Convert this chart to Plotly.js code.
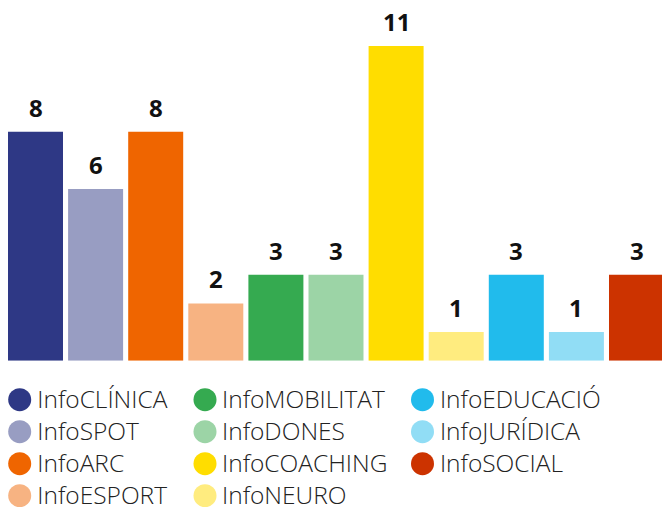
<!DOCTYPE html>
<html>
<head>
<meta charset="utf-8">
<script src="https://cdn.plot.ly/plotly-3.0.1.min.js"></script>
<style>
  html, body { margin: 0; padding: 0; background: #ffffff; }
  #chart { width: 662px; height: 507px; }
</style>
</head>
<body>
<div id="chart"></div>
<script>
// ---- Data ----
const categories = ['InfoCLÍNICA', 'InfoSPOT', 'InfoARC', 'InfoESPORT', 'InfoMOBILITAT', 'InfoDONES',
                    'InfoCOACHING', 'InfoNEURO', 'InfoEDUCACIÓ', 'InfoJURÍDICA', 'InfoSOCIAL'];
const values = [8, 6, 8, 2, 3, 3, 11, 1, 3, 1, 3];
const colors = ['#2e3885', '#989dc2', '#ef6500', '#f7b382', '#35aa50', '#9cd4a6',
                '#ffdd00', '#ffec7f', '#21bbec', '#91ddf5', '#cc3300'];

// ---- Layout constants (pixels) ----
const W = 662, H = 507;
const plotLeft = 5.45;       // left edge of category -0.5
const pitch = 60.1;          // px per category
const baseline = 360.7;      // y pixel of value 0
const unit = 28.61;          // px per value unit
const FONT = '"Open Sans", "Noto Sans", sans-serif';

// legend grid (column-major, 4 rows)
const legMarkerX = [19.7, 205, 422.5];
const legTextX = [37.3, 222.0, 439.9];
const legRowY0 = 399.7, legRowStep = 32;
const legFont = 24.5;

const legMx = [], legMy = [], legTx = [], legTy = [];
categories.forEach((c, i) => {
  const col = Math.floor(i / 4), row = i % 4;
  legMx.push(legMarkerX[col]);
  legMy.push(legRowY0 + row * legRowStep);
  legTx.push(legTextX[col]);
  legTy.push(legRowY0 + row * legRowStep + 1.9);
});

const traces = [
  {
    type: 'bar',
    x: categories,
    y: values,
    marker: { color: colors, line: { width: 0 } },
    hoverinfo: 'none',
    showlegend: false,
    xaxis: 'x', yaxis: 'y'
  },
  {
    type: 'scatter', mode: 'markers',
    x: legMx, y: legMy,
    marker: { color: colors, size: 23, line: { width: 0 } },
    hoverinfo: 'none', showlegend: false,
    xaxis: 'x2', yaxis: 'y2', cliponaxis: false
  },
  {
    type: 'scatter', mode: 'text',
    x: legTx, y: legTy,
    text: categories,
    textposition: 'middle right',
    textfont: { family: FONT, size: legFont, color: '#222222', weight: 350 },
    hoverinfo: 'none', showlegend: false,
    xaxis: 'x2', yaxis: 'y2', cliponaxis: false
  }
];

const annotations = categories.map((c, i) => ({
  x: c, y: values[i], xref: 'x', yref: 'y',
  text: String(values[i]),
  showarrow: false,
  xanchor: 'center', yanchor: 'bottom',
  yshift: 6,
  font: { family: FONT, size: 24, color: '#111111', weight: 'bold' }
}));

const hidden = { showgrid: false, zeroline: false, showticklabels: false, ticks: '', showline: false, fixedrange: true };

const layout = {
  width: W, height: H,
  margin: { l: 0, r: 0, t: 0, b: 0, pad: 0 },
  paper_bgcolor: '#ffffff', plot_bgcolor: 'rgba(0,0,0,0)',
  showlegend: false,
  barmode: 'overlay',
  bargap: 1 - 55 / pitch,
  font: { family: FONT },
  xaxis: Object.assign({}, hidden, {
    type: 'category',
    domain: [plotLeft / W, 1],
    range: [-0.5, -0.5 + (W - plotLeft) / pitch]
  }),
  yaxis: Object.assign({}, hidden, {
    domain: [1 - baseline / H, 1],
    range: [0, baseline / unit]
  }),
  xaxis2: Object.assign({}, hidden, { domain: [0, 1], range: [0, W], anchor: 'y2' }),
  yaxis2: Object.assign({}, hidden, { domain: [0, 1], range: [H, 0], anchor: 'x2' }),
  annotations: annotations
};

Plotly.newPlot('chart', traces, layout, { staticPlot: true, displayModeBar: false });
</script>
</body>
</html>
